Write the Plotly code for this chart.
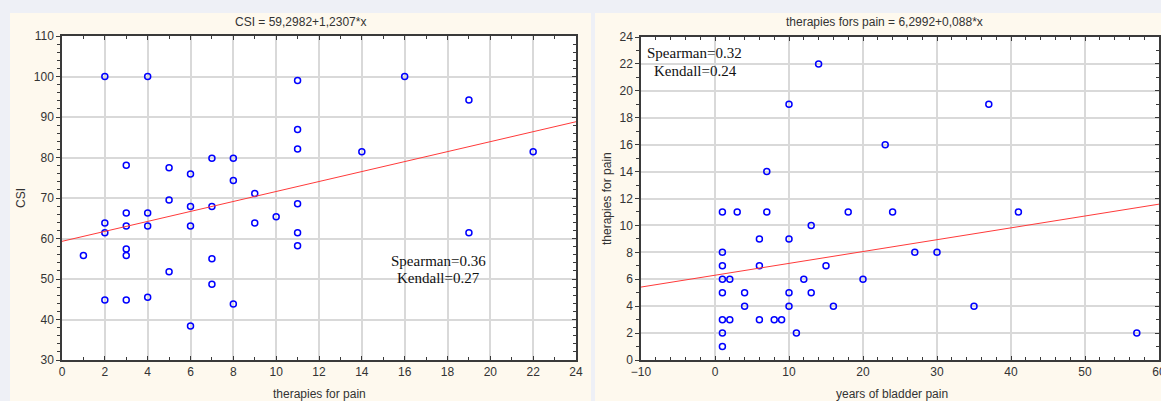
import plotly.graph_objects as go

W, H = 1161, 401

# ---------------- data ----------------
# Left panel: CSI vs therapies for pain
left_therapies = [1,
                  2, 2, 2, 2,
                  3, 3, 3, 3, 3, 3,
                  4, 4, 4, 4,
                  5, 5, 5,
                  6, 6, 6, 6,
                  7, 7, 7, 7,
                  8, 8, 8,
                  9, 9,
                  10,
                  11, 11, 11, 11, 11, 11,
                  14, 16, 19, 19, 22]
left_csi = [55.8,
            100, 63.8, 61.4, 44.8,
            78.1, 66.3, 63.1, 57.4, 55.8, 44.8,
            100, 66.3, 63.1, 45.5,
            77.5, 69.5, 51.8,
            75.9, 67.9, 63.1, 38.4,
            79.8, 67.9, 55.0, 48.7,
            79.8, 74.3, 43.8,
            71.1, 63.8,
            65.4,
            99.0, 86.9, 82.1, 68.6, 61.4, 58.2,
            81.4, 100, 94.2, 61.4, 81.4]
left_intercept, left_slope = 59.2982, 1.2307
left_title = "CSI = 59,2982+1,2307*x"
left_xlabel = "therapies for pain"
left_ylabel = "CSI"
left_stats = ["Spearman=0.36", "Kendall=0.27"]

# Right panel: therapies for pain vs years of bladder pain
right_years = [1, 1, 1, 1, 1, 1, 1, 1,
               2, 2, 3, 4, 4, 6, 6, 6, 7, 7, 8, 9,
               10, 10, 10, 10, 11, 12, 13, 13, 14, 15, 16, 18, 20,
               23, 24, 27, 30, 35, 37, 41, 57]
right_therapies = [11, 8, 7, 6, 5, 3, 2, 1,
                   6, 3, 11, 5, 4, 9, 7, 3, 14, 11, 3, 3,
                   19, 9, 5, 4, 2, 6, 10, 5, 22, 7, 4, 11, 6,
                   16, 11, 8, 8, 4, 19, 11, 2]
right_intercept, right_slope = 6.2992, 0.088
right_title = "therapies fors pain = 6,2992+0,088*x"
right_xlabel = "years of bladder pain"
right_ylabel = "therapies for pain"
right_stats = ["Spearman=0.32", "Kendall=0.24"]

left_xrange, left_yrange = [0, 24], [30, 110]
right_xrange, right_yrange = [-10, 60], [0, 24]

# ---------------- helpers ----------------
def px(x):
    return x / W

def py(y):
    return 1 - y / H

BLUE = "#0000ff"
RED = "#ff3a3a"
AX = "#3a3a3a"
GRID = "#d9d9d9"
TXT = "#333333"
SANS = "Liberation Sans, Arial, sans-serif"
SERIF = "Liberation Serif, Times New Roman, serif"

fig = go.Figure()

marker = dict(symbol="circle-open", size=6, color=BLUE, line=dict(width=1.5, color=BLUE))

fig.add_trace(go.Scatter(x=left_therapies, y=left_csi, mode="markers", marker=marker,
                         xaxis="x", yaxis="y", showlegend=False, hoverinfo="x+y"))
fig.add_trace(go.Scatter(x=left_xrange,
                         y=[left_intercept + left_slope * v for v in left_xrange],
                         mode="lines", line=dict(color=RED, width=1),
                         xaxis="x", yaxis="y", showlegend=False, hoverinfo="skip"))
fig.add_trace(go.Scatter(x=right_years, y=right_therapies, mode="markers", marker=marker,
                         xaxis="x2", yaxis="y2", showlegend=False, hoverinfo="x+y"))
fig.add_trace(go.Scatter(x=right_xrange,
                         y=[right_intercept + right_slope * v for v in right_xrange],
                         mode="lines", line=dict(color=RED, width=1),
                         xaxis="x2", yaxis="y2", showlegend=False, hoverinfo="skip"))
# empty traces to activate the mirror frame axes (top / right)
fig.add_trace(go.Scatter(x=[], y=[], xaxis="x3", yaxis="y3", showlegend=False))
fig.add_trace(go.Scatter(x=[], y=[], xaxis="x4", yaxis="y4", showlegend=False))

tickfont = dict(family=SANS, size=12, color=TXT)


def axis(rng, dtick, mdtick, ticks, domain=None, anchor=None, grid=True, labels=True,
         side=None, overlaying=None):
    d = dict(range=rng, dtick=dtick, tick0=rng[0], ticks=ticks, ticklen=4, tickwidth=1,
             tickcolor=AX, showline=True, linecolor=AX, linewidth=1.5,
             showgrid=grid, gridcolor=GRID, gridwidth=1.5, zeroline=False,
             showticklabels=labels, tickfont=tickfont, fixedrange=True,
             automargin=False, ticklabeloverflow="allow",
             minor=dict(dtick=mdtick, tick0=rng[0], ticks=ticks, ticklen=3,
                        tickcolor=AX, showgrid=False))
    if domain is not None:
        d["domain"] = domain
    if anchor is not None:
        d["anchor"] = anchor
    if side is not None:
        d["side"] = side
    if overlaying is not None:
        d["overlaying"] = overlaying
    return d

L_x0, L_x1, L_yt, L_yb = 62, 576, 36, 360
R_x0, R_x1, R_yt, R_yb = 641, 1159, 37, 360

fig.update_layout(
    width=W, height=H,
    margin=dict(l=0, r=0, t=0, b=0, autoexpand=False),
    paper_bgcolor="#eef0f6",
    plot_bgcolor="#ffffff",
    xaxis=axis(left_xrange, 2, 1, "inside", domain=[px(L_x0), px(L_x1)], anchor="y"),
    yaxis=axis(left_yrange, 10, 2, "outside", domain=[py(L_yb), py(L_yt)], anchor="x"),
    xaxis3=axis(left_xrange, 2, 1, "inside", anchor="y3", grid=False, labels=False,
                side="top", overlaying="x"),
    yaxis3=axis(left_yrange, 10, 2, "inside", anchor="x3", grid=False, labels=False,
                side="right", overlaying="y"),
    xaxis2=axis(right_xrange, 10, 2, "inside", domain=[px(R_x0), px(R_x1)], anchor="y2"),
    yaxis2=axis(right_yrange, 2, 1, "outside", domain=[py(R_yb), py(R_yt)], anchor="x2"),
    xaxis4=axis(right_xrange, 10, 2, "inside", anchor="y4", grid=False, labels=False,
                side="top", overlaying="x2"),
    yaxis4=axis(right_yrange, 2, 1, "inside", anchor="x4", grid=False, labels=False,
                side="right", overlaying="y2"),
)

CREAM = "#fef9ee"
fig.update_layout(shapes=[
    dict(type="rect", xref="paper", yref="paper", x0=px(10), x1=px(591), y0=0, y1=py(13),
         fillcolor=CREAM, line=dict(width=0), layer="below"),
    dict(type="rect", xref="paper", yref="paper", x0=px(595), x1=1.0, y0=0, y1=py(13),
         fillcolor=CREAM, line=dict(width=0), layer="below"),
    dict(type="rect", xref="x domain", yref="y domain", x0=0, x1=1, y0=0, y1=1,
         fillcolor="#ffffff", line=dict(width=0), layer="below"),
    dict(type="rect", xref="x2 domain", yref="y2 domain", x0=0, x1=1, y0=0, y1=1,
         fillcolor="#ffffff", line=dict(width=0), layer="below"),
])

ann = []
def label(text, x, y, size=12, family=SANS, angle=0, color=TXT):
    ann.append(dict(text=text, x=px(x), y=py(y), xref="paper", yref="paper",
                    xanchor="center", yanchor="middle", showarrow=False,
                    textangle=angle, font=dict(family=family, size=size, color=color)))

label(left_title, 300, 22)
label(right_title, 884, 22)
label(left_xlabel, 319, 394)
label(right_xlabel, 892, 394)
label(left_ylabel, 21, 198, angle=-90)
label(right_ylabel, 607, 199, angle=-90)
label(left_stats[0], 438, 261, size=15, family=SERIF, color="#111111")
label(left_stats[1], 438, 278, size=15, family=SERIF, color="#111111")
label(right_stats[0], 694, 53, size=15, family=SERIF, color="#111111")
label(right_stats[1], 695, 71, size=15, family=SERIF, color="#111111")
fig.update_layout(annotations=ann)

fig.write_html("out.html")
